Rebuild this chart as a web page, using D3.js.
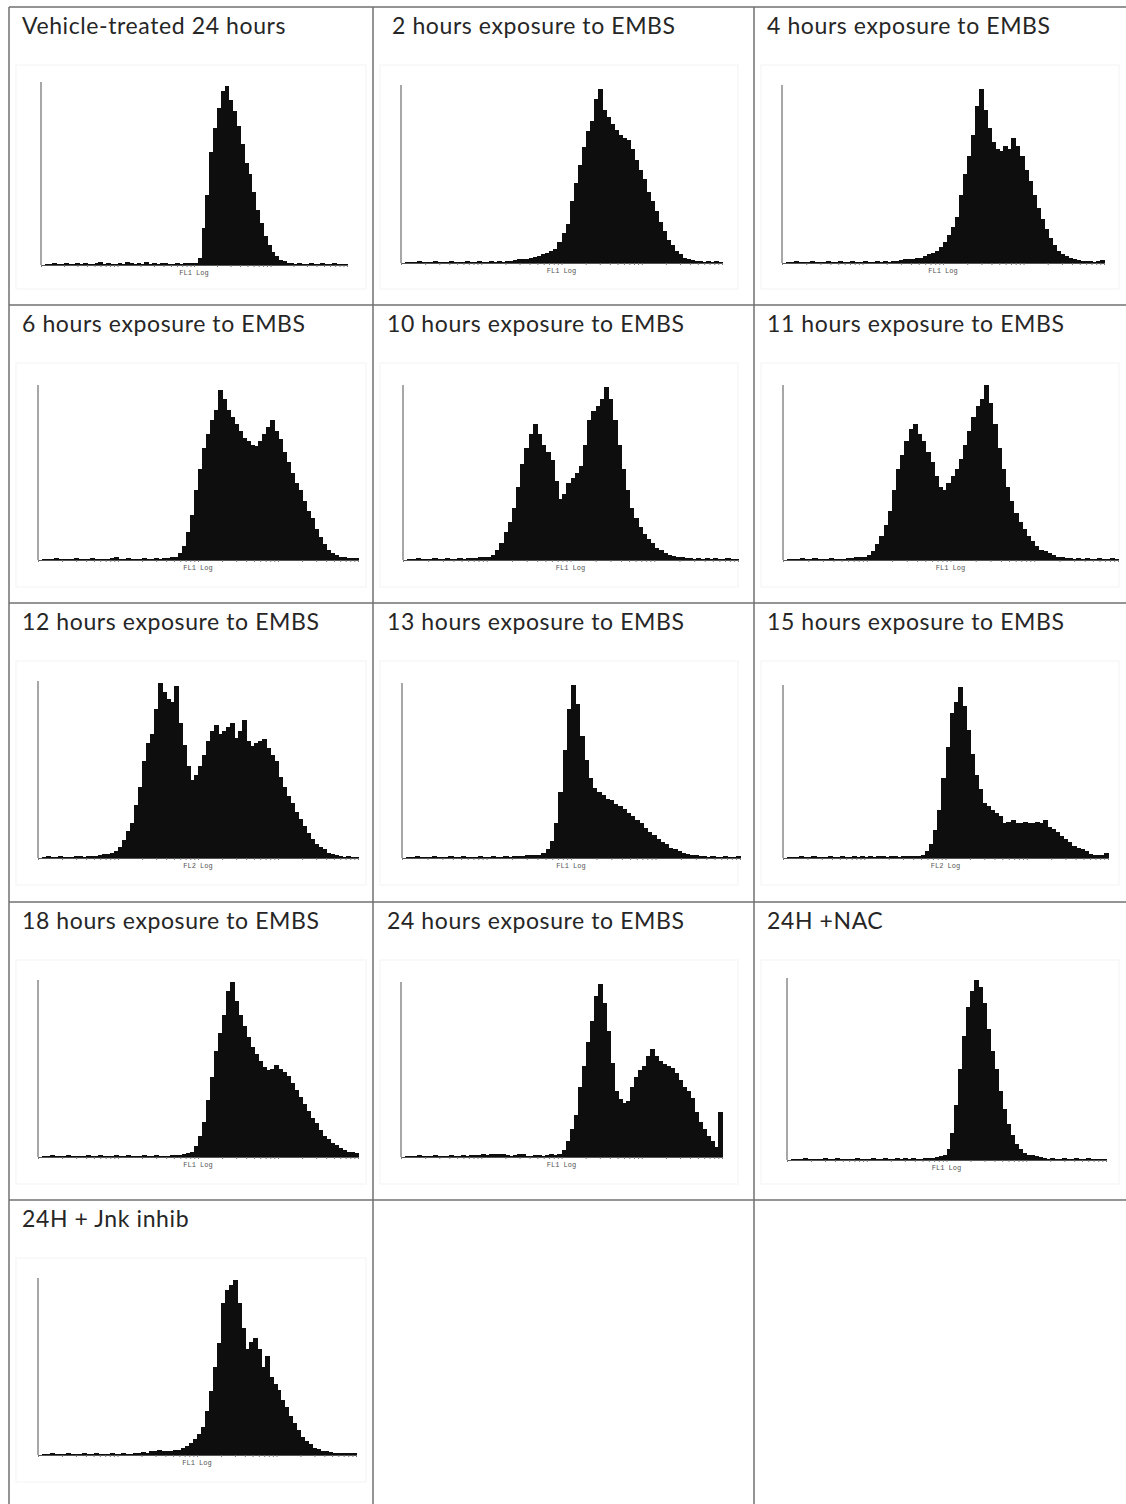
<!DOCTYPE html>
<html>
<head>
<meta charset="utf-8">
<script src="https://cdn.jsdelivr.net/npm/d3@7"></script>
<style>
  body { margin: 0; background: #fff; }
  svg { display: block; }
</style>
</head>
<body>
<svg width="1126" height="1504"></svg>
<script>
// panel titles, in reading order
const titles = [
  "Vehicle-treated 24 hours", "2 hours exposure to EMBS", "4 hours exposure to EMBS",
  "6 hours exposure to EMBS", "10 hours exposure to EMBS", "11 hours exposure to EMBS",
  "12 hours exposure to EMBS", "13 hours exposure to EMBS", "15 hours exposure to EMBS",
  "18 hours exposure to EMBS", "24 hours exposure to EMBS", "24H +NAC",
  "24H + Jnk inhib"
];
const axisLabels = ["FL1 Log", "FL1 Log", "FL1 Log", "FL1 Log", "FL1 Log", "FL1 Log",
  "FL2 Log", "FL1 Log", "FL2 Log", "FL1 Log", "FL1 Log", "FL1 Log", "FL1 Log"];

// histogram heights, % of the tallest channel, 80 channels each
const vehicle24h = [
  0,0.5,0.5,1,0.5,0.5,1,0.5,0.5,1, 0.5,1,0.5,0.5,1,1.5,0.5,1,0.5,0.5,
  1,0.5,1.5,1,0.5,1,0.5,1.5,0.5,1, 0.5,1,1,0.5,0.5,1,0.5,1,1,1,
  1,4,20,38,62,75,86,95,98,90, 84,76,66,56,50,40,30,23,16,11,
  7,5,3,2,1,1,0.5,1,0.5,0.5, 1,0.5,0.5,1,0.5,0.5,1,0.5,0.5,0.5];
const embs2h = [
  0,0.5,0.5,0.5,1,0.5,0.5,0.5,1,0.5, 0.5,0.5,1,0.5,0.5,0.5,1,0.5,0.5,1,
  0.5,0.5,1,0.5,1,0.5,1,1,1.5,2, 2,2.5,3,3.5,4,5,5.5,7,8,12,
  17,22,35,45,55,65,74,80,92,98, 86,82,78,75,72,70,69,64,58,52,
  47,40,35,29,23,18,13,10,7,5, 3,2,1.5,1,1,0.5,1,0.5,1,0.5];
const embs4h = [
  0,0.5,0.5,1,0.5,0.5,0.5,1,0.5,0.5, 0.5,1,0.5,0.5,1,0.5,0.5,1,0.5,0.5,
  1,0.5,0.5,1,0.5,1,0.5,1,1,1.5, 2,2,2.5,3,3,4,5,5.5,7,9,
  12,16,20,26,38,50,60,72,88,98, 86,76,68,64,63,66,64,70,66,60,
  52,46,38,31,25,19,14,10,7,5, 4,3,2,1.5,1,1,1,0.5,1,1.5];
const embs6h = [
  0,0.5,0.5,0.5,1,0.5,0.5,0.5,0.5,1, 0.5,0.5,0.5,1,0.5,0.5,0.5,0.5,1,1.5,
  0.5,0.5,1,0.5,0.5,0.5,1,0.5,0.5,1, 0.5,1,1,1.5,2,4,8,16,26,40,
  52,64,72,80,86,97,92,86,82,78, 74,70,68,66,65,68,72,76,80,74,
  69,62,56,50,44,40,34,28,24,18, 13,9,6,4,3,2,1.5,1,1,1];
const embs10h = [
  0,0.5,0.5,1,0.5,0.5,0.5,1,0.5,0.5, 1,0.5,0.5,1,0.5,1,1,1,1.5,1.5,
  2,3,6,10,16,22,30,42,55,64, 72,78,72,66,62,57,45,35,38,44,
  47,50,54,66,80,85,88,92,99,92, 80,66,52,40,30,24,19,15,12,10,
  7,6,4,3,2.5,2,1.5,1,1,0.5, 1,0.5,1,0.5,1,0.5,0.5,1,0.5,0.5];
const embs11h = [
  0,0.5,0.5,0.5,1,0.5,0.5,1,0.5,0.5, 0.5,1,0.5,0.5,0.5,1,1,1.5,1.5,2,
  3,5,9,14,20,28,40,52,60,68, 75,78,72,68,62,56,48,42,40,44,
  48,52,58,66,74,82,88,92,100,90, 78,64,52,42,34,27,22,18,14,11,
  8,6,5,4,3,2,1.5,1,1,0.5, 1,0.5,1,0.5,0.5,1,0.5,0.5,1,0.5];
const embs12h = [
  0,0.5,1,0.5,0.5,1,0.5,0.5,0.5,1, 1,0.5,1,1,1,1.5,2,2.5,3,4,
  6,10,15,20,30,40,55,65,70,84, 99,94,90,88,97,76,64,52,44,47,
  52,58,66,72,75,70,72,74,76,68, 72,78,66,63,65,66,67,62,58,55,
  46,40,35,31,26,22,18,14,11,8, 6,5,3,2,1.5,1,0.5,1,0.5,0.5];
const embs13h = [
  0,0.5,0.5,1,0.5,0.5,0.5,1,0.5,0.5, 0.5,1,0.5,0.5,1,0.5,0.5,0.5,1,0.5,
  0.5,1,0.5,0.5,1,0.5,1,1,1,1.5, 1.5,2,2,3,5,10,20,38,62,85,
  99,88,70,56,46,40,38,36,34,33, 31,30,28,26,24,22,20,17,15,13,
  11,9,8,6,5,4,3,2.5,2,1.5, 1,1,0.5,1,0.5,0.5,1,0.5,0.5,1];
const embs15h = [
  0,0.5,0.5,0.5,1,0.5,0.5,1,0.5,0.5, 0.5,1,0.5,0.5,1,0.5,0.5,1,0.5,1,
  0.5,1,0.5,1,1,0.5,1,1,0.5,1, 1,1,1,1,1.5,4,8,16,28,46,
  64,84,90,99,88,74,60,48,40,32, 30,28,26,24,20,21,22,20,20,21,
  20,20,21,20,22,18,17,15,13,11, 9,7,6,5,4,2.5,2,1.5,1.5,3];
const embs18h = [
  0,0.5,0.5,1,0.5,0.5,0.5,1,0.5,0.5, 0.5,0.5,1,0.5,0.5,1,0.5,0.5,0.5,1,
  0.5,0.5,1,0.5,0.5,0.5,1,0.5,0.5,1, 0.5,0.5,0.5,1,1,1,1.5,2,3,6,
  12,20,32,45,60,70,80,94,99,88, 80,74,68,62,58,54,51,49,50,52,
  50,48,46,42,38,34,30,26,22,19, 15,12,10,8,7,5,4,3,3,2];
const embs24h = [
  0,0.5,0.5,0.5,1,0.5,0.5,0.5,1,0.5, 0.5,0.5,1,0.5,0.5,1,0.5,1,1,1,
  1.5,1,1.5,2,1.5,2,1,0.5,1,2, 1.5,0.5,0.5,1,1,0.5,1,2,1,2,
  4,9,16,24,40,52,66,78,92,99, 88,72,54,38,33,31,32,40,46,50,
  52,58,62,58,55,53,52,51,48,44, 40,38,34,26,20,16,12,9,6,26];
const nac24h = [
  0,0.5,0.5,0.5,1,0.5,0.5,0.5,0.5,1, 0.5,0.5,1,0.5,0.5,0.5,0.5,1,0.5,0.5,
  0.5,1,0.5,0.5,1,0.5,0.5,1,0.5,1, 0.5,1,0.5,0.5,1,1,1,1.5,2,3,
  6,15,30,50,68,84,93,99,95,86, 72,60,50,38,28,20,14,9,6,4,
  3,2.5,2,1.5,1,0.5,1,0.5,0.5,1, 0.5,0.5,1,0.5,0.5,1,0.5,0.5,0.5,0.5];
const jnk24h = [
  0,0.5,0.5,1,0.5,0.5,0.5,1,0.5,0.5, 0.5,1,0.5,0.5,1,0.5,0.5,0.5,1,0.5,
  0.5,1,0.5,0.5,1,1,1.5,1,2,2, 3,2,2.5,2,3,3,4,5,7,9,
  12,16,25,36,50,63,86,93,96,99, 86,72,60,64,66,60,50,56,44,40,
  37,31,27,22,18,14,10,8,6,4, 3.5,2.5,2,1.5,1,1,1,1,1,1];

const series = [vehicle24h, embs2h, embs4h, embs6h, embs10h, embs11h, embs12h,
  embs13h, embs15h, embs18h, embs24h, nac24h, jnk24h];

// table layout
const colX = [9, 373, 754, 1135];
const rowY = [7, 305, 603, 902, 1200, 1510];
// plot box inside each cell: [left, right, top, baseline, title x]
const boxes = [
  [32, 338, 75, 258, 13], [28, 349, 78, 256, 19], [28, 350, 78, 256, 13],
  [29, 349, 80, 255, 13], [30, 365, 80, 255, 14], [29, 364, 80, 255, 13],
  [29, 349, 78, 255, 13], [29, 367, 80, 255, 14], [29, 354, 82, 255, 13],
  [29, 349, 78, 255, 13], [28, 349, 80, 255, 14], [33, 352, 76, 258, 13],
  [29, 347, 78, 255, 13]
];

let svg = d3.select("svg");
svg.append("rect").attr("width", 1126).attr("height", 1504).attr("fill", "#fff");

titles.forEach((title, i) => {
  let cx = colX[i % 3], cy = rowY[Math.floor(i / 3)];
  let cw = colX[i % 3 + 1] - cx;
  let [l, r, t, b, tx] = boxes[i];
  let g = svg.append("g").attr("transform", "translate(" + cx + "," + cy + ")");

  // faint frame of the pasted screenshot
  g.append("rect")
    .attr("x", 7).attr("y", 58).attr("width", Math.min(cw, 372) - 14).attr("height", 224)
    .attr("fill", "none").attr("stroke", "#f3f3f3");

  g.append("text")
    .attr("x", tx).attr("y", 27)
    .attr("font-family", "Lato, 'Open Sans', sans-serif")
    .attr("font-size", 23)
    .attr("letter-spacing", 0.6)
    .attr("fill", "#262626")
    .text(title);

  let x = d3.scaleBand().domain(d3.range(series[i].length)).range([l, r]).padding(0);
  let y = d3.scaleLinear().domain([0, 100]).range([b, t]);

  g.append("g")
    .attr("shape-rendering", "crispEdges")
    .selectAll("rect")
    .data(series[i])
    .enter().append("rect")
    .attr("x", (d, k) => x(k))
    .attr("y", d => y(d))
    .attr("width", x.bandwidth() + 1)
    .attr("height", d => b - y(d))
    .attr("fill", "#0e0e0e");

  // y axis line
  g.append("line")
    .attr("x1", l).attr("x2", l).attr("y1", t).attr("y2", b)
    .attr("stroke", "#8a8a8a").attr("stroke-width", 1.5);

  // log x axis with tiny ticks
  let xl = d3.scaleLog().domain([1, 10000]).range([l, r]);
  let ax = g.append("g")
    .attr("transform", "translate(0," + b + ")")
    .call(d3.axisBottom(xl).tickSize(2).tickSizeOuter(0).tickFormat(""));
  ax.select(".domain").attr("stroke", "#555");
  ax.selectAll(".tick line").attr("stroke", "#777");

  g.append("text")
    .attr("x", (l + r) / 2).attr("y", b + 10)
    .attr("text-anchor", "middle")
    .attr("font-family", "'Liberation Mono', monospace")
    .attr("font-size", 7)
    .attr("fill", "#555")
    .text(axisLabels[i]);
});

// table grid
let grid = svg.append("g").attr("stroke", "#707070").attr("stroke-width", 1.5);
colX.forEach(cx => grid.append("line").attr("x1", cx).attr("x2", cx).attr("y1", rowY[0]).attr("y2", 1510));
rowY.slice(0, 5).forEach(ry => grid.append("line").attr("x1", colX[0]).attr("x2", 1135).attr("y1", ry).attr("y2", ry));
</script>
</body>
</html>
